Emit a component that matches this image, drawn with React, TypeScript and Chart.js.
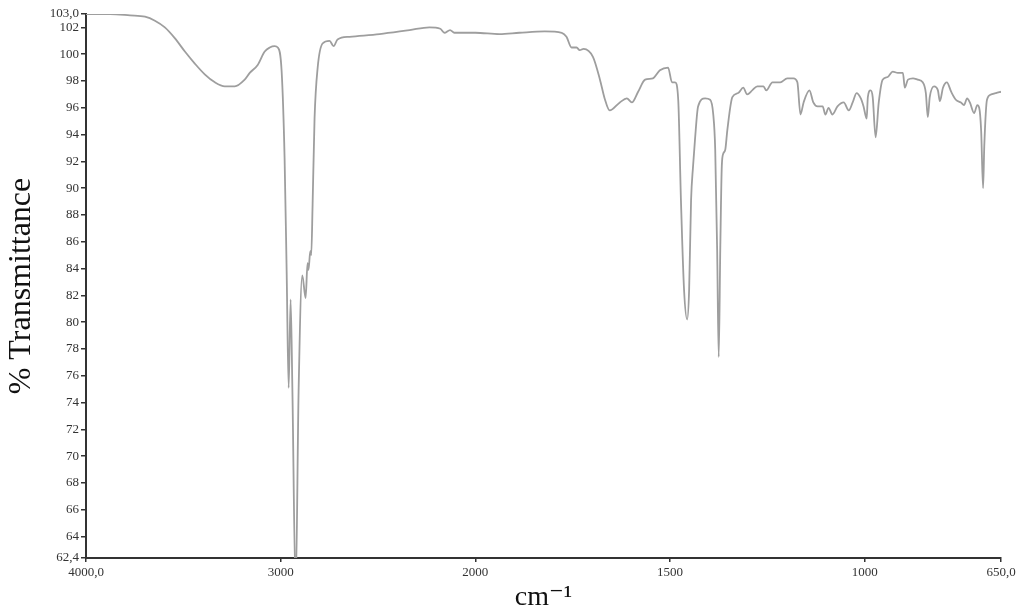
import React, { useEffect, useRef } from "react";
import { Chart, registerables } from "chart.js";

Chart.register(...registerables);

// Wavenumbers (cm-1) and % transmittance
const wavenumbers = [
  4000, 3877, 3774, 3697, 3646, 3595, 3544, 3492, 3441, 3390, 3338, 3287, 3236, 3185, 3159, 3118, 3082, 3056, 3031, 3015,
  2995, 2980, 2969, 2959, 2949, 2940, 2923, 2908, 2889, 2872, 2862, 2857, 2848, 2843, 2836, 2826, 2810, 2785, 2749, 2728,
  2708, 2646, 2492, 2338, 2236, 2180, 2159, 2130, 2108, 2000, 1938, 1887, 1822, 1778, 1766, 1753, 1740, 1732, 1722, 1698,
  1680, 1668, 1655, 1629, 1611, 1598, 1582, 1564, 1544, 1526, 1505, 1495, 1487, 1479, 1472, 1464, 1456, 1451, 1446, 1441,
  1436, 1428, 1410, 1397, 1389, 1384, 1379, 1375, 1371, 1367, 1363, 1358, 1353, 1340, 1325, 1312, 1302, 1289, 1276, 1260,
  1253, 1237, 1217, 1199, 1183, 1173, 1165, 1157, 1142, 1132, 1121, 1108, 1101, 1093, 1083, 1070, 1054, 1041, 1031, 1021,
  1010, 1003, 995, 992, 985, 979.5, 972, 964, 954, 941, 928, 915, 902, 897, 889, 876, 864, 851, 843, 838,
  833, 822, 812, 807, 799, 789, 778, 766, 753, 745, 737, 730, 719, 711, 706, 701, 696, 693, 686, 675,
  663, 650,
];
const transmittance = [
  103.0, 103.0, 102.9, 102.8, 102.5, 102.0, 101.2, 100.2, 99.3, 98.5, 97.9, 97.6, 97.6, 98.1, 98.6, 99.2, 100.2, 100.5, 100.6, 100.5,
  98.7, 92.3, 83.5, 75.1, 81.7, 75.1, 60.0, 74.8, 83.5, 81.8, 84.4, 83.9, 85.3, 85.0, 88.8, 95.2, 99.0, 100.8, 101.0, 100.6,
  101.1, 101.3, 101.5, 101.8, 102.0, 101.9, 101.6, 101.8, 101.6, 101.6, 101.5, 101.6, 101.7, 101.6, 101.3, 100.5, 100.5, 100.3, 100.4, 99.8,
  98.1, 96.7, 95.8, 96.4, 96.7, 96.4, 97.2, 98.1, 98.2, 98.8, 99.0, 97.9, 97.9, 96.6, 89.1, 82.4, 80.2, 82.4, 89.1, 91.6,
  93.6, 96.1, 96.7, 96.6, 95.5, 92.9, 85.4, 77.4, 85.4, 91.7, 92.6, 92.9, 94.3, 96.8, 97.1, 97.5, 97.0, 97.3, 97.6, 97.6,
  97.3, 97.9, 97.9, 98.2, 98.2, 97.9, 95.5, 96.4, 97.3, 96.4, 96.1, 96.1, 95.5, 96.0, 95.5, 96.1, 96.4, 95.8, 96.4, 97.1,
  96.7, 96.1, 95.2, 96.8, 97.3, 96.8, 93.8, 96.4, 98.1, 98.3, 98.7, 98.6, 98.6, 97.5, 98.1, 98.2, 98.1, 97.9, 97.1, 95.3,
  96.8, 97.6, 97.3, 96.5, 97.5, 97.9, 97.2, 96.6, 96.4, 96.2, 96.7, 96.4, 95.6, 96.2, 96.0, 94.3, 90.0, 93.1, 96.6, 97.0,
  97.1, 97.2,
];

const xTickWavenumbers = [4000, 3000, 2000, 1500, 1000, 650];
const xTickLabels = ["4000,0", "3000", "2000", "1500", "1000", "650,0"];
const yTickValues = [62.4, 64, 66, 68, 70, 72, 74, 76, 78, 80, 82, 84, 86, 88, 90, 92, 94, 96, 98, 100, 102, 103];
const yTickLabels = ["62,4", "64", "66", "68", "70", "72", "74", "76", "78", "80", "82", "84", "86", "88", "90", "92", "94", "96", "98", "100", "102", "103,0"];

// Axis is expanded 2x below 2000 cm-1 (as in the instrument plot)
function toAxis(w: number): number {
  return w >= 2000 ? 4000 - w : 2000 + (2000 - w) * 2;
}

const serif = "'Liberation Serif', 'DejaVu Serif', serif";

export default function App() {
  const canvasRef = useRef<HTMLCanvasElement | null>(null);

  useEffect(() => {
    document.body.style.margin = "0";
    const canvas = canvasRef.current;
    if (!canvas) return;
    const points = wavenumbers.map((w, i) => ({ x: toAxis(w), y: transmittance[i] }));
    const xTickPositions = xTickWavenumbers.map(toAxis);

    const chart = new Chart(canvas, {
      type: "line",
      data: {
        datasets: [
          {
            label: "Spectrum",
            data: points,
            borderColor: "#9e9e9e",
            borderWidth: 1.8,
            pointRadius: 0,
            fill: false,
            cubicInterpolationMode: "monotone",
          },
        ],
      },
      options: {
        animation: false,
        responsive: true,
        maintainAspectRatio: false,
        layout: { padding: { top: 14, right: 23, bottom: 0, left: 0 } },
        plugins: { legend: { display: false }, tooltip: { enabled: false } },
        scales: {
          x: {
            type: "linear",
            min: toAxis(4000),
            max: toAxis(650),
            afterBuildTicks: (scale: any) => {
              scale.ticks = xTickPositions.map((v) => ({ value: v }));
            },
            afterFit: (scale: any) => {
              scale.height = 56;
            },
            ticks: {
              autoSkip: false,
              maxRotation: 0,
              color: "#333",
              padding: 3,
              font: { family: serif, size: 13 },
              callback: (value: any) => {
                const idx = xTickPositions.findIndex((p) => Math.abs(p - Number(value)) < 0.5);
                return idx >= 0 ? xTickLabels[idx] : "";
              },
            },
            grid: { drawOnChartArea: false, drawTicks: true, tickLength: 4, color: "#333", lineWidth: 1.5 },
            border: { display: true, color: "#333", width: 2 },
            title: {
              display: true,
              text: "cm⁻¹",
              color: "#111",
              font: { family: serif, size: 28 },
              padding: { top: 0, bottom: 0 },
            },
          },
          y: {
            type: "linear",
            min: 62.4,
            max: 103,
            afterBuildTicks: (scale: any) => {
              scale.ticks = yTickValues.map((v) => ({ value: v }));
            },
            afterFit: (scale: any) => {
              scale.width = 86;
            },
            ticks: {
              autoSkip: false,
              color: "#333",
              padding: 2,
              font: { family: serif, size: 13 },
              callback: (value: any) => {
                const idx = yTickValues.findIndex((p) => Math.abs(p - Number(value)) < 0.05);
                return idx >= 0 ? yTickLabels[idx] : "";
              },
            },
            grid: { drawOnChartArea: false, drawTicks: true, tickLength: 5, color: "#333", lineWidth: 1.5 },
            border: { display: true, color: "#333", width: 2 },
            title: {
              display: true,
              text: "% Transmittance",
              color: "#111",
              font: { family: serif, size: 32 },
              padding: { top: 2, bottom: 0 },
            },
          },
        },
      },
    });
    return () => chart.destroy();
  }, []);

  return (
    <div style={{ position: "fixed", left: 0, top: 0, width: 1024, height: 614, background: "#fff" }}>
      <canvas ref={canvasRef} />
    </div>
  );
}
